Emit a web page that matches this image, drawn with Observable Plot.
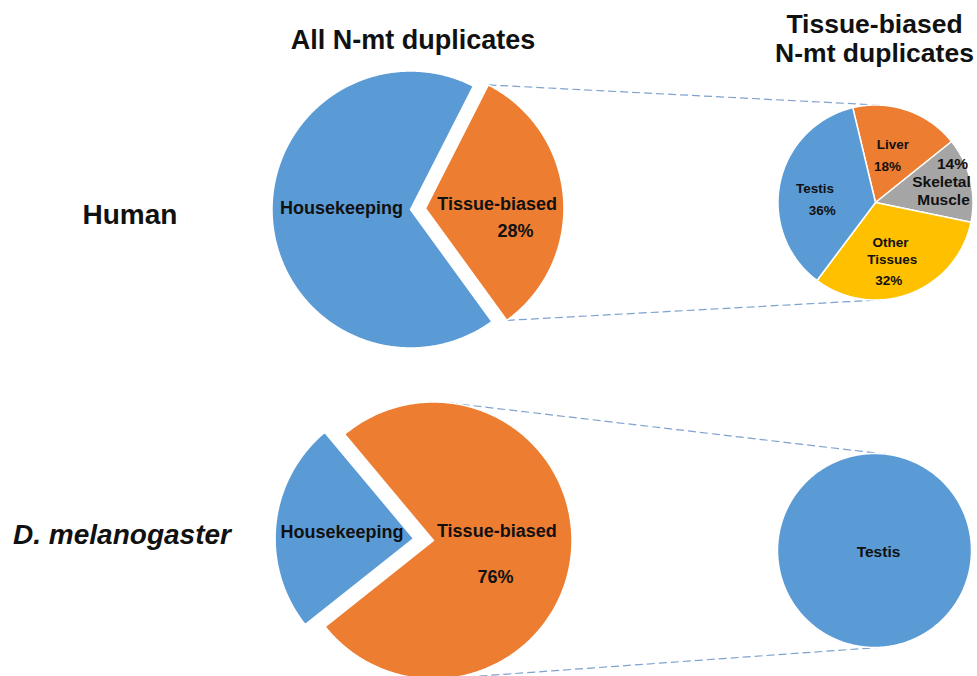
<!DOCTYPE html>
<html><head><meta charset="utf-8">
<script src="https://cdn.jsdelivr.net/npm/d3@7"></script>
<script src="https://cdn.jsdelivr.net/npm/@observablehq/plot@0.6"></script>
<style>html,body{margin:0;padding:0;background:#fff}</style>
</head><body><div id="chart"></div>
<script>
// ---------------- DATA ----------------
const columnTitles = ["All N-mt duplicates", "Tissue-biased\nN-mt duplicates"];
const species = ["Human", "D. melanogaster"];

const humanAllCategories = ["Housekeeping", "Tissue-biased"];
const humanAllValues = [67.5, 32.5];
const humanAllLabels = [["Housekeeping"], ["Tissue-biased", "28%"]];

const humanTissueCategories = ["Liver", "Skeletal Muscle", "Other Tissues", "Testis"];
const humanTissueValues = [18, 14, 32, 36];
const humanTissueLabels = [["Liver", "18%"], ["14%", "Skeletal", "Muscle"], ["Other", "Tissues", "32%"], ["Testis", "36%"]];

const flyAllCategories = ["Housekeeping", "Tissue-biased"];
const flyAllValues = [24.6, 75.4];
const flyAllLabels = [["Housekeeping"], ["Tissue-biased", "76%"]];

const flyTissueCategories = ["Testis"];
const flyTissueValues = [100];
const flyTissueLabels = [["Testis"]];

// ---------------- STYLE / LAYOUT ----------------
const colorDomain = ["Housekeeping", "Tissue-biased", "Testis", "Liver", "Skeletal Muscle", "Other Tissues"];
const colorRange  = ["#5B9BD5", "#ED7D31", "#5B9BD5", "#ED7D31", "#A5A5A5", "#FFC000"];
const W = 977, H = 676, deg = Math.PI / 180;

const pies = [
  {id: "hA", cats: humanAllCategories, vals: humanAllValues, labels: humanAllLabels,
   cx: 410, cy: 209, r: 138.5, start: 144, explode: {index: 1, px: 15},
   sizes: [18, 18], offsets: [[[-69, 4]], [[71.7, 1.3], [90, 29]]]},
  {id: "hT", cats: humanTissueCategories, vals: humanTissueValues, labels: humanTissueLabels,
   cx: 875, cy: 202, r: 97.5, start: -13.5, explode: null,
   sizes: [13.5, 15.5, 13.5, 13.5],
   offsets: [[[17.5, -54], [12, -32]], [[77, -34], [66, -15.3], [68, 2]],
             [[15, 44], [16.7, 61], [13.3, 82]], [[-60.5, -9.3], [-53.3, 12]]]},
  {id: "fA", cats: flyAllCategories, vals: flyAllValues, labels: flyAllLabels,
   cx: 433, cy: 540, r: 138.5, start: 231.5, explode: {index: 0, px: 20},
   sizes: [18, 18], offsets: [[[-71.7, -0.7]], [[63.3, -3.3], [62, 42.7]]]},
  {id: "fT", cats: flyTissueCategories, vals: flyTissueValues, labels: flyTissueLabels,
   cx: 874, cy: 550, r: 97, start: 0, explode: null,
   sizes: [15.5], offsets: [[[4, 6]]]}
];

// ---------------- GEOMETRY ----------------
function sliceGeom(p) {
  const arcs = d3.pie().sort(null).value(d => d)
    .startAngle(p.start * deg).endAngle(p.start * deg + 2 * Math.PI)(p.vals);
  return arcs.map((a, i) => {
    let ox = 0, oy = 0;
    if (p.explode && p.explode.index === i) {
      const m = (a.startAngle + a.endAngle) / 2;
      ox = p.explode.px * Math.sin(m); oy = -p.explode.px * Math.cos(m);
    }
    return {pie: p, i, cat: p.cats[i], a0: a.startAngle, a1: a.endAngle, ax: p.cx + ox, ay: p.cy + oy};
  });
}
const allSlices = pies.flatMap(sliceGeom);

const polyPoints = [];
for (const s of allSlices) {
  const id = s.pie.id + "-" + s.i, span = s.a1 - s.a0;
  const full = span > 2 * Math.PI - 1e-6;
  const n = Math.max(2, Math.ceil(span / (0.5 * deg)));
  if (!full) polyPoints.push({id, cat: s.cat, x: s.ax, y: s.ay});
  for (let k = 0; k <= n; k++) {
    const t = s.a0 + span * k / n;
    polyPoints.push({id, cat: s.cat, x: s.ax + s.pie.r * Math.sin(t), y: s.ay - s.pie.r * Math.cos(t)});
  }
  if (!full) polyPoints.push({id, cat: s.cat, x: s.ax, y: s.ay});
}

// labels
const sliceLabels = [];
for (const s of allSlices) {
  const lines = s.pie.labels[s.i], offs = s.pie.offsets[s.i];
  lines.forEach((t, j) => sliceLabels.push({text: t, x: s.ax + offs[j][0], y: s.ay + offs[j][1], size: s.pie.sizes[s.i]}));
}

// connectors
function tangentFromPoint(P, C, R, upper) {
  const dx = C.x - P.x, dy = C.y - P.y, d = Math.hypot(dx, dy);
  const th = Math.atan2(dy, dx), b = Math.asin(R / d), L = Math.sqrt(d * d - R * R);
  const ang = upper ? th - b : th + b;
  return {x1: P.x, y1: P.y, x2: P.x + L * Math.cos(ang), y2: P.y + L * Math.sin(ang)};
}
function outerTangents(C1, r1, C2, r2) {
  const phi = Math.atan2(C2.y - C1.y, C2.x - C1.x), d = Math.hypot(C2.x - C1.x, C2.y - C1.y);
  const al = Math.asin((r1 - r2) / d);
  const pT = phi + al, nT = [Math.sin(pT), -Math.cos(pT)];
  const pB = phi - al, nB = [-Math.sin(pB), Math.cos(pB)];
  return [
    {x1: C1.x + r1 * nT[0], y1: C1.y + r1 * nT[1], x2: C2.x + r2 * nT[0], y2: C2.y + r2 * nT[1]},
    {x1: C1.x + r1 * nB[0], y1: C1.y + r1 * nB[1], x2: C2.x + r2 * nB[0], y2: C2.y + r2 * nB[1]}
  ];
}
const connectors = [];
{ // human: from exploded slice corners, tangent to the secondary pie
  const s = allSlices.find(d => d.pie.id === "hA" && d.i === 1), p2 = pies[1];
  const c0 = {x: s.ax + s.pie.r * Math.sin(s.a0), y: s.ay - s.pie.r * Math.cos(s.a0)};
  const c1 = {x: s.ax + s.pie.r * Math.sin(s.a1), y: s.ay - s.pie.r * Math.cos(s.a1)};
  const [top, bot] = c0.y < c1.y ? [c0, c1] : [c1, c0];
  connectors.push(tangentFromPoint(top, {x: p2.cx, y: p2.cy}, p2.r, true));
  connectors.push(tangentFromPoint(bot, {x: p2.cx, y: p2.cy}, p2.r, false));
}
{ // fly: outer tangents of the primary and secondary pies
  const p1 = pies[2], p2 = pies[3];
  connectors.push(...outerTangents({x: p1.cx, y: p1.cy}, p1.r, {x: p2.cx, y: p2.cy}, p2.r));
}

const titles = [
  {text: columnTitles[0], x: 412.5, y: 48, size: 27},
  {text: columnTitles[1], x: 874, y: 61, size: 26.5}
];
const speciesLabels = [
  {text: species[0], x: 129.5, y: 223, italic: false},
  {text: species[1], x: 121.5, y: 543, italic: true}
];

const sizeGroups = d3.groups(sliceLabels, d => d.size);

const chart = Plot.plot({
  width: W, height: H, margin: 0,
  x: {domain: [0, W], range: [0, W], axis: null},
  y: {domain: [0, H], range: [0, H], axis: null},
  color: {type: "ordinal", domain: colorDomain, range: colorRange},
  style: {fontFamily: "'Liberation Sans', Arial, sans-serif", background: "#fff", overflow: "visible"},
  marks: [
    Plot.link(connectors, {x1: "x1", y1: "y1", x2: "x2", y2: "y2", stroke: "#7FA2CE", strokeWidth: 1.2, strokeDasharray: "8,4"}),
    Plot.line(polyPoints, {x: "x", y: "y", z: "id", fill: "cat", stroke: "white", strokeWidth: 1.5, strokeLinejoin: "round", curve: "linear"}),
    ...sizeGroups.map(([size, rows]) =>
      Plot.text(rows, {x: "x", y: "y", text: "text", fontSize: size, fontWeight: "bold", fill: "#111", lineAnchor: "bottom", textAnchor: "middle"})),
    ...titles.map(t => Plot.text([t], {x: "x", y: "y", text: "text", fontSize: t.size, fontWeight: "bold", fill: "#111", lineAnchor: "bottom", textAnchor: "middle", lineHeight: 1.094})),
    Plot.text(speciesLabels.filter(d => !d.italic), {x: "x", y: "y", text: "text", fontSize: 28, fontWeight: "bold", fill: "#111", lineAnchor: "bottom", textAnchor: "middle"}),
    Plot.text(speciesLabels.filter(d => d.italic), {x: "x", y: "y", text: "text", fontSize: 28, fontWeight: "bold", fontStyle: "italic", fill: "#111", lineAnchor: "bottom", textAnchor: "middle"})
  ]
});
document.getElementById("chart").appendChild(chart);
</script></body></html>
